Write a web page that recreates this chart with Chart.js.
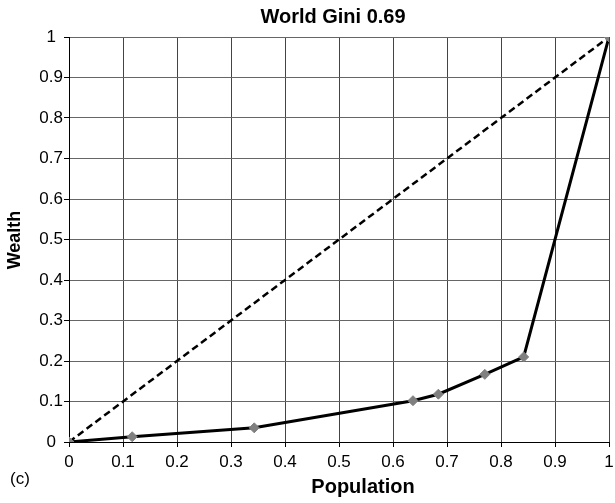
<!DOCTYPE html>
<html>
<head>
<meta charset="utf-8">
<script src="https://cdn.jsdelivr.net/npm/chart.js@4"></script>
<style>
  html, body { margin: 0; padding: 0; background: #fff; }
  #wrap { width: 615px; height: 503px; }
</style>
</head>
<body>
<div id="wrap"><canvas id="giniChart" width="615" height="503"></canvas></div>
<script>
const populationShare = [0, 0.117, 0.343, 0.637, 0.684, 0.770, 0.842, 1];
const wealthShare = [0, 0.013, 0.035, 0.102, 0.118, 0.167, 0.210, 1];
const equalityX = [0, 1];
const equalityY = [0, 1];
const xTickLabels = ["0", "0.1", "0.2", "0.3", "0.4", "0.5", "0.6", "0.7", "0.8", "0.9", "1"];
const yTickLabels = ["0", "0.1", "0.2", "0.3", "0.4", "0.5", "0.6", "0.7", "0.8", "0.9", "1"];

const FONT = "'Liberation Sans', Arial, sans-serif";

// draw title, axis titles and the panel letter as canvas text
const textPlugin = {
  id: "texts",
  afterDraw(chart) {
    const ctx = chart.ctx;
    ctx.save();
    ctx.fillStyle = "#000";
    ctx.textAlign = "center";
    ctx.textBaseline = "middle";
    ctx.font = "bold 20px " + FONT;
    ctx.fillText("World Gini 0.69", 333, 17);
    ctx.fillText("Population", 363, 487);
    ctx.save();
    ctx.translate(15, 240);
    ctx.rotate(-Math.PI / 2);
    ctx.font = "bold 18px " + FONT;
    ctx.fillText("Wealth", 0, 0);
    ctx.restore();
    ctx.font = "17px " + FONT;
    ctx.fillText("(c)", 20, 479);
    ctx.restore();
  },
};

const ctx = document.getElementById("giniChart").getContext("2d");

const giniChart = new Chart(ctx, {
  type: "scatter",
  data: {
    datasets: [
      {
        label: "Lorenz",
        data: populationShare.map((x, i) => ({ x: x, y: wealthShare[i] })),
        showLine: true,
        borderColor: "#000",
        borderWidth: 3,
        pointStyle: "rectRot",
        pointRadius: 5,
        pointBorderWidth: 1,
        pointBackgroundColor: "#808080",
        pointBorderColor: "#808080",
        tension: 0,
      },
      {
        label: "Equality",
        data: equalityX.map((x, i) => ({ x: x, y: equalityY[i] })),
        showLine: true,
        borderColor: "#000",
        borderWidth: 2.5,
        borderDash: [7, 4],
        pointRadius: 0,
        tension: 0,
      },
    ],
  },
  options: {
    responsive: false,
    animation: false,
    layout: { padding: { top: 37, right: 3, left: 0, bottom: 0 } },
    plugins: {
      legend: { display: false },
      title: { display: false },
      tooltip: { enabled: false },
    },
    scales: {
      x: {
        type: "linear",
        min: 0,
        max: 1,
        afterFit(s) {
          s.height = 61;
          s.paddingLeft = 0;
          s.paddingRight = 0;
        },
        grid: { color: "#444", lineWidth: 1, tickLength: 5, tickColor: "#000" },
        border: { color: "#000", width: 1 },
        ticks: {
          stepSize: 0.1,
          padding: 5,
          maxRotation: 0,
          autoSkip: false,
          color: "#000",
          font: { family: FONT, size: 17 },
          callback: (v, i) => xTickLabels[i],
        },
      },
      y: {
        type: "linear",
        min: 0,
        max: 1,
        afterFit(s) {
          s.width = 69;
          s.paddingTop = 0;
          s.paddingBottom = 0;
        },
        grid: { color: "#666", lineWidth: 1, tickLength: 5, tickColor: "#000" },
        border: { color: "#000", width: 1 },
        ticks: {
          stepSize: 0.1,
          padding: 1,
          crossAlign: "center",
          autoSkip: false,
          color: "#000",
          font: { family: FONT, size: 17 },
          callback: (v, i) => yTickLabels[i],
        },
      },
    },
  },
  plugins: [textPlugin],
});
</script>
</body>
</html>
